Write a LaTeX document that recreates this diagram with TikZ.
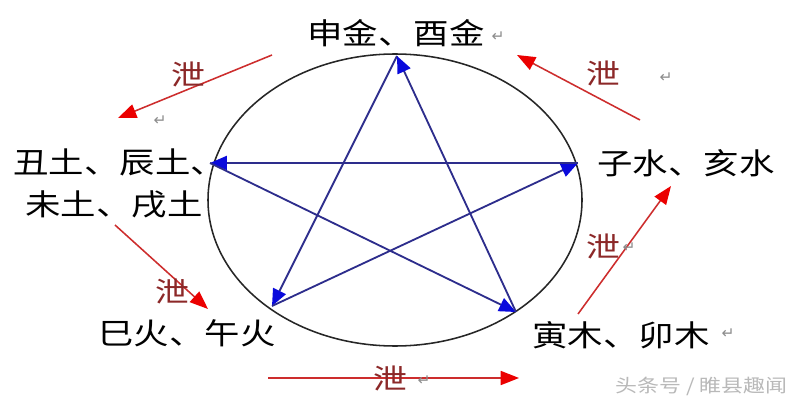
\documentclass[tikz,border=0pt]{standalone}
\usepackage{fontspec}
\usepackage{graphicx}
\setmainfont{Noto Sans CJK SC}
\newfontfamily\symfont{DejaVu Sans}
\usetikzlibrary{arrows.meta}
\definecolor{starline}{RGB}{45,45,140}
\definecolor{starhead}{RGB}{10,10,220}
\definecolor{redline}{RGB}{205,45,45}
\definecolor{redhead}{RGB}{235,0,0}
\definecolor{xietext}{RGB}{140,40,40}
\definecolor{markgray}{RGB}{140,140,140}
\definecolor{wmgray}{RGB}{185,185,185}
\newcommand{\wide}[1]{\scalebox{1.2}[1]{#1}}
\tikzset{
  lbl/.style={inner sep=0pt, anchor=west, font=\fontsize{21}{21}\selectfont},
  xie/.style={inner sep=0pt, text=xietext, font=\fontsize{20}{20}\selectfont},
  pmark/.style={inner sep=0pt, text=markgray, font=\symfont\fontsize{11}{11}\selectfont},
  starl/.style={draw=starline, line width=1.3pt, -{Triangle[length=12pt,width=10pt,color=starhead]}},
  redarrow/.style={draw=redline, line width=1.1pt, -{Triangle[length=13pt,width=10pt,color=redhead]}},
}
\begin{document}
\begin{tikzpicture}[x=0.025cm, y=-0.025cm]
\useasboundingbox[fill=white] (0,0) rectangle (800,400);
% circle
\draw[line width=1.1pt, black!85] (395,200) ellipse [x radius=187, y radius=146];
% star vertices
\coordinate (T) at (397,56);
\coordinate (L) at (210,163);
\coordinate (R) at (578,163);
\coordinate (LL) at (272,306);
\coordinate (LR) at (516,312);
\draw[starl] (T) -- (LL);
\draw[starl] (LL) -- (R);
\draw[starl] (R) -- (L);
\draw[starl] (L) -- (LR);
\draw[starl] (LR) -- (T);
% labels
\node[lbl] (jin) at (307,33) {\wide{申金、酉金}};
\node[lbl] (tu1) at (13,162) {\wide{丑土、辰土、}};
\node[lbl] (tu2) at (25,205) {\wide{未土、戌土}};
\node[lbl] (shui) at (597,163) {\wide{子水、亥水}};
\node[lbl] (huo) at (98,333) {\wide{巳火、午火}};
\node[lbl] (mu) at (532,335) {\wide{寅木、卯木}};
% red arrows
\coordinate (a1s) at (272,55);  \coordinate (a1e) at (118,118);
\coordinate (a2s) at (640,120); \coordinate (a2e) at (517,55);
\coordinate (a3s) at (115,225); \coordinate (a3e) at (208,309);
\coordinate (a4s) at (578,314); \coordinate (a4e) at (671,186);
\coordinate (a5s) at (268,378); \coordinate (a5e) at (519,378);
\draw[redarrow] (a1s) -- (a1e);
\draw[redarrow] (a2s) -- (a2e);
\draw[redarrow] (a3s) -- (a3e);
\draw[redarrow] (a4s) -- (a4e);
\draw[redarrow] (a5s) -- (a5e);
% xie labels
\node[xie] (x1) at (188,74) {\wide{泄}};
\node[xie] (x2) at (603,73) {\wide{泄}};
\node[xie] (x3) at (172,291) {\wide{泄}};
\node[xie] (x4) at (603,246) {\wide{泄}};
\node[xie] (x5) at (390,378) {\wide{泄}};
% paragraph marks
\node[pmark] (p1) at (498,37) {↵};
\node[pmark] (p2) at (160,121) {↵};
\node[pmark] (p3) at (666,78) {↵};
\node[pmark] (p4) at (629,248) {↵};
\node[pmark] (p5) at (424,381) {↵};
\node[pmark] (p6) at (728,334) {↵};
% watermark
\node[inner sep=0pt, anchor=west, text=wmgray, font=\fontsize{13}{13}\selectfont] (wm) at (615,386) {\wide{头条号 / 睢县趣闻}};
\end{tikzpicture}
\end{document}
